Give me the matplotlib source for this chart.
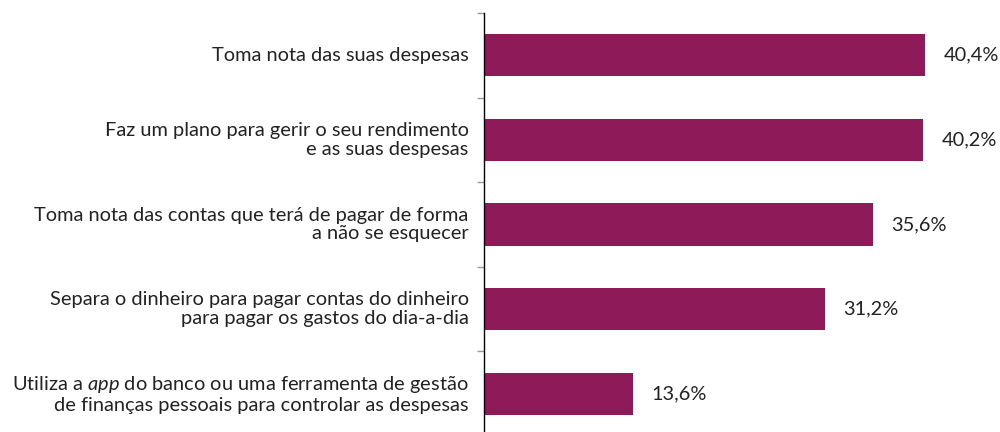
import matplotlib
matplotlib.use("Agg")
import matplotlib.pyplot as plt

plt.rcParams['font.family'] = ['Lato', 'DejaVu Sans']
plt.rcParams['mathtext.fontset'] = 'custom'
plt.rcParams['mathtext.rm'] = 'Lato'
plt.rcParams['mathtext.it'] = 'Lato:italic'

# dados
categorias = [
    "Toma nota das suas despesas",
    "Faz um plano para gerir o seu rendimento\ne as suas despesas",
    "Toma nota das contas que terá de pagar de forma\na não se esquecer",
    "Separa o dinheiro para pagar contas do dinheiro\npara pagar os gastos do dia-a-dia",
    "Utiliza a $\\mathit{app}$ do banco ou uma ferramenta de gestão\nde finanças pessoais para controlar as despesas",
]
valores = [40.4, 40.2, 35.6, 31.2, 13.6]
rotulos = ["40,4%", "40,2%", "35,6%", "31,2%", "13,6%"]

cor = "#8E1A5A"

fig = plt.figure(figsize=(10, 4.32), dpi=100)
ax = fig.add_axes([0.484, -0.0093, 0.516, 0.9792])

y = list(range(len(valores)))
ax.barh(y, valores, height=0.5, color=cor)
ax.set_ylim(len(valores) - 0.5, -0.5)
ax.set_xlim(0, 47.25)

for yi, v, r in zip(y, valores, rotulos):
    ax.annotate(r, (v, yi), xytext=(13.5, 0), textcoords="offset points",
                va="center", ha="left", fontsize=14.4, color="#222222")

# rótulos das categorias
for yi, c in zip(y, categorias):
    ax.annotate(c, (0, yi), xytext=(-11, 0), textcoords="offset points",
                va="center", ha="right", multialignment="right",
                fontsize=14.4, color="#222222", linespacing=1.12)

# marcas nas fronteiras das categorias
ax.set_yticks([i - 0.5 for i in range(len(valores) + 1)])
ax.set_yticklabels([])
ax.tick_params(axis="y", length=5, color="#999999", width=1)
ax.set_xticks([])

for s in ["top", "right", "bottom"]:
    ax.spines[s].set_visible(False)
ax.spines["left"].set_color("black")
ax.spines["left"].set_linewidth(1)

fig.savefig("out.png", dpi=100)
